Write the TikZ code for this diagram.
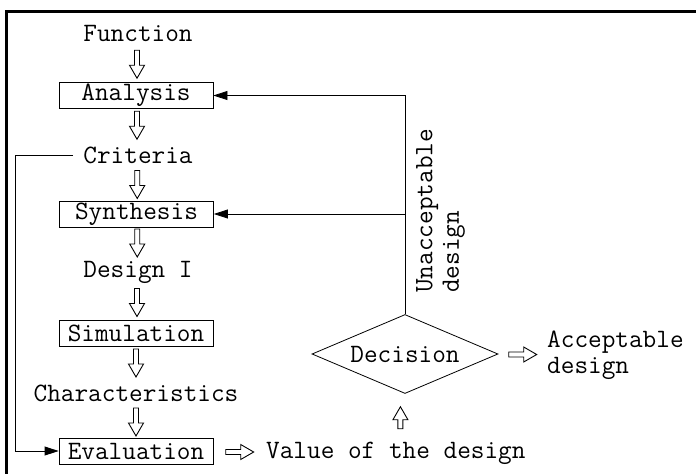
\documentclass[tikz,border=0pt]{standalone}
\usepackage{fontspec}
\usetikzlibrary{calc,shapes.geometric,arrows.meta}
\tikzset{
  hollow len/.store in=\hollowlen, hollow len=14,
  hollow/.pic={\draw[line width=0.9pt] (-\hollowlen,-2.5) -- ({\hollowlen-13},-2.5) -- ({\hollowlen-13},-7.5) -- (\hollowlen,0) -- ({\hollowlen-13},7.5) -- ({\hollowlen-13},2.5) -- (-\hollowlen,2.5) -- cycle;},
  box/.style={draw, line width=0.8pt, minimum width=154pt, minimum height=26pt, inner sep=0pt},
  lbl/.style={inner sep=0pt},
  fb/.style={line width=0.8pt, -{Triangle[length=14pt,width=9pt]}}
}

\begin{document}
\begin{tikzpicture}[x=1pt, y=-1pt, every node/.style={font=\ttfamily\fontsize{26.5}{26.5}\selectfont}]
	%%%%% START %%%%%
	\useasboundingbox (0,0) rectangle (696,474);
	\draw[line width=3pt] (696,11.5) -- (6.5,11.5) -- (6.5,474);
	
	% main chain
	\node[lbl] (func) at (138,33) {Function};
	\node[box] (ana) at (136,95.5) {Analysis};
	\node[lbl] (crit) at (138,155) {Criteria};
	\node[box] (syn) at (136.5,214) {Synthesis};
	\node[lbl] (des) at (138,272) {Design I};
	\node[box] (sim) at (136,333) {Simulation};
	\node[lbl] (char) at (136,393) {Characteristics};
	\node[box] (eva) at (136,451) {Evaluation};
	
	\pic[rotate=-90] at ($(func)!0.5!(ana)$) {hollow};
	\pic[rotate=-90] at ($(ana)!0.5!(crit)$) {hollow};
	\pic[rotate=-90] at ($(crit)!0.5!(syn)$) {hollow};
	\pic[rotate=-90] at ($(syn)!0.5!(des)$) {hollow};
	\pic[rotate=-90] at ($(des)!0.5!(sim)$) {hollow};
	\pic[rotate=-90] at ($(sim)!0.5!(char)$) {hollow};
	\pic[rotate=-90] at ($(char)!0.5!(eva)$) {hollow};
	
	% decision
	\node[draw, diamond, line width=0.8pt, aspect=2.35, minimum width=186pt, minimum height=79pt, inner sep=0pt] (dec) at (405,354) {Decision};
	\node[lbl, anchor=west] (val) at (266,453) {Value of the design};
	\node[lbl, align=left, anchor=west] (acc) at (547,355) {Acceptable\\design};
	\node[lbl, rotate=90, align=left, anchor=north west] (unacc) at (416,293) {Unacceptable\\design};
	
	\pic at ($(eva.east)!0.5!(val.west)$) {hollow};
	\pic at ($(dec.east)!0.5!(acc.west)$) {hollow};
	\pic[rotate=90, hollow len=11] at ($(val.north)!0.5!(dec.south)$) {hollow};
	
	% feedback
	\coordinate (fbl) at (15,155);
	\draw[fb] (dec.north) |- (ana.east);
	\draw[fb] (dec.north |- syn.east) -- (syn.east);
	\draw[fb] ([xshift=-10pt]crit.west) -- (fbl) |- (eva.west);
	%%%%% END %%%%%
\end{tikzpicture}
\end{document}
